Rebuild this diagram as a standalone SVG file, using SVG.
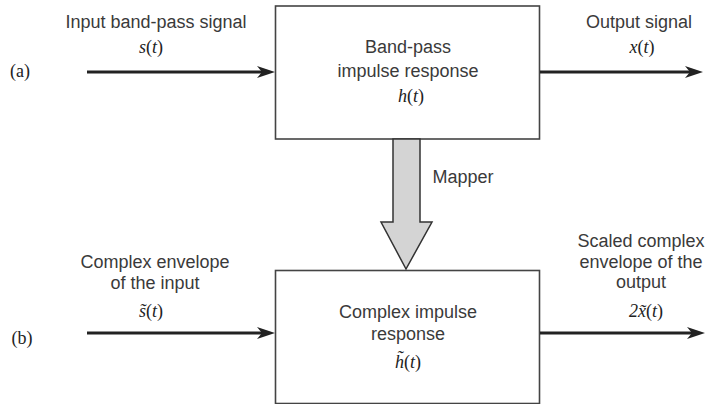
<svg xmlns="http://www.w3.org/2000/svg" width="714" height="404" viewBox="0 0 714 404">
<style>
.s{font-family:"Liberation Sans",Arial,sans-serif;font-size:18px;fill:#3a3a3a;text-anchor:middle}
.m{font-family:"Liberation Serif","Times New Roman",serif;font-size:18px;fill:#222;text-anchor:middle}
.i{font-style:italic}
.box{fill:#fff;stroke:#444;stroke-width:1.6}
.ln{stroke:#222;stroke-width:3;fill:none}
</style>
<defs>
<marker id="ah" markerUnits="userSpaceOnUse" markerWidth="20" markerHeight="14" refX="8" refY="7" orient="auto">
<path d="M0,1 L18,7 L0,13 L5,7 z" fill="#222"/>
</marker>
</defs>
<text class="m" x="20" y="77">(a)</text>
<text class="m" x="22" y="344">(b)</text>
<g id="bandpass">
<rect class="box" x="275.5" y="6" width="264" height="133"/>
<text class="s" x="408" y="53">Band-pass</text>
<text class="s" x="408" y="77">impulse response</text>
<text class="m i" x="411" y="102">h<tspan font-style="normal">(</tspan>t<tspan font-style="normal">)</tspan></text>
</g>
<g id="complex">
<rect class="box" x="275.5" y="270.5" width="264" height="133"/>
<text class="s" x="408" y="318">Complex impulse</text>
<text class="s" x="408" y="340">response</text>
<text class="m i" x="408" y="368">h̃<tspan font-style="normal">(</tspan>t<tspan font-style="normal">)</tspan></text>
</g>
<g id="mapper">
<path d="M393,139 L420,139 L420,222 L432,222 L406,269 L381,222 L393,222 z" fill="#d4d4d4" stroke="#333" stroke-width="1.5"/>
<text class="s" x="463" y="183">Mapper</text>
</g>
<g id="connectors">
<line class="ln" x1="87" y1="72" x2="265" y2="72" marker-end="url(#ah)"/>
<line class="ln" x1="540" y1="72" x2="693" y2="72" stroke-width="2.5" marker-end="url(#ah)"/>
<line class="ln" x1="87" y1="333" x2="265" y2="333" marker-end="url(#ah)"/>
<line class="ln" x1="540" y1="333" x2="695" y2="333" stroke-width="2.5" marker-end="url(#ah)"/>
</g>
<g id="labels">
<text class="s" x="156" y="28">Input band-pass signal</text>
<text class="m i" x="151" y="53">s<tspan font-style="normal">(</tspan>t<tspan font-style="normal">)</tspan></text>
<text class="s" x="639" y="28">Output signal</text>
<text class="m i" x="642" y="53">x<tspan font-style="normal">(</tspan>t<tspan font-style="normal">)</tspan></text>
<text class="s" x="155" y="268">Complex envelope</text>
<text class="s" x="155" y="289">of the input</text>
<text class="m i" x="151" y="317">s̃<tspan font-style="normal">(</tspan>t<tspan font-style="normal">)</tspan></text>
<text class="s" x="641" y="247">Scaled complex</text>
<text class="s" x="641" y="268">envelope of the</text>
<text class="s" x="641" y="288">output</text>
<text class="m i" x="646" y="317">2x̃<tspan font-style="normal">(</tspan>t<tspan font-style="normal">)</tspan></text>
</g>
</svg>
